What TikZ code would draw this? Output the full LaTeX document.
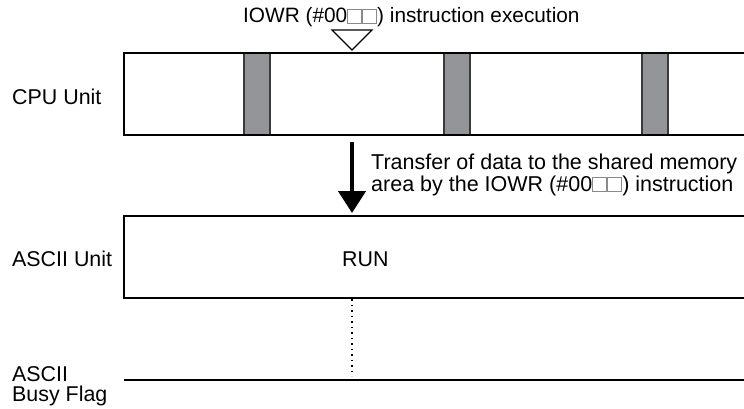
\documentclass[tikz,border=0pt]{standalone}
\usepackage{fontspec}
\setmainfont{Liberation Sans}
\usetikzlibrary{arrows.meta}
\definecolor{barfill}{HTML}{939598}
\definecolor{barline}{HTML}{3A3A3C}
\definecolor{sqgray}{HTML}{8A8A8A}
\newcommand{\wsq}{\textcolor{sqgray}{\fboxsep=0pt\fboxrule=0.8pt\fbox{\rule{0pt}{13.5pt}\hspace{12.8pt}}}\kern0.6pt}
\begin{document}
\begin{tikzpicture}[x=1pt,y=-1pt,
  lbl/.style={inner sep=0pt,anchor=base west,font=\fontsize{21.4}{21}\selectfont},
  unitbox/.style={line width=2.6pt,line join=miter},
  busybar/.style={fill=barfill,draw=barline,line width=1.6pt},
  flagline/.style={line width=2.6pt}]
\useasboundingbox (0,0) rectangle (744,409);
% CPU unit box (open to the right)
\foreach \bx in {244,444,642}{
  \draw[busybar] (\bx,53) rectangle (\bx+26,135);
}
\draw[unitbox] (744,53) -- (124,53) -- (124,135) -- (744,135);
% ASCII unit box
\draw[unitbox] (744,216) -- (124,216) -- (124,298) -- (744,298);
% busy flag line
\draw[flagline] (124,380) -- (744,380);
% labels
\node[lbl] (cpu) at (12,105) {CPU Unit};
\node[lbl] (ascii) at (12,266) {ASCII Unit};
\node[lbl] (run) at (342,266) {RUN};
\node[lbl,align=left,font=\fontsize{21.4}{19.5}\selectfont] (busy) at (12,401) {ASCII\\Busy Flag};
\node[lbl,font=\fontsize{20.8}{21}\selectfont] (top) at (243,23) {IOWR (\#00\wsq\wsq) instruction execution};
\node[lbl,align=left,font=\fontsize{21.5}{22}\selectfont] (xfer) at (371,191) {Transfer of data to the shared memory\\area by the IOWR (\#00\wsq\wsq) instruction};
% triangle marker
\coordinate (tl) at (332,30);
\coordinate (tr) at (372,30);
\coordinate (tip) at (352,50);
\draw[line width=1.2pt,line join=miter] (tl) -- (tr) -- (tip) -- cycle;
% transfer arrow
\coordinate (a1) at (352,142);
\coordinate (a2) at (352,213);
\draw[line width=4.5pt,-{Triangle[width=27pt,length=22pt]}] (a1) -- (a2);
% dotted line
\coordinate (d1) at (352,299);
\coordinate (d2) at (352,376);
\draw[line width=1.5pt,dash pattern=on 1.5pt off 4pt] (d1) -- (d2);
\end{tikzpicture}
\end{document}
